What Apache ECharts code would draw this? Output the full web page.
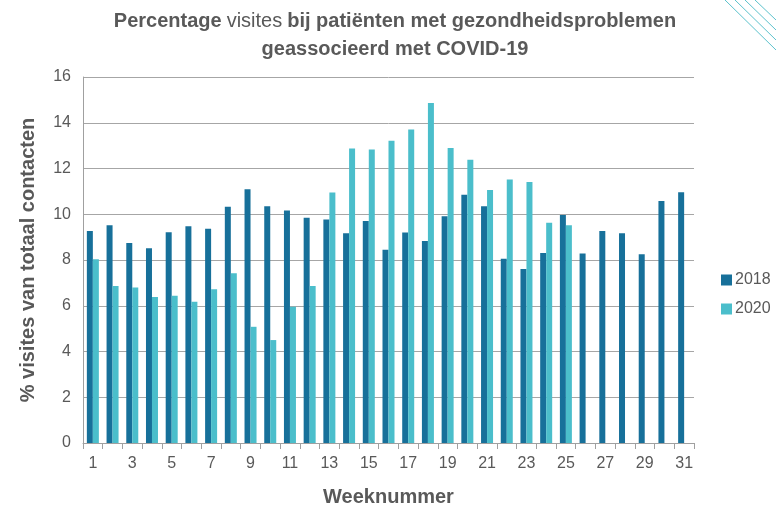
<!DOCTYPE html>
<html>
<head>
<meta charset="utf-8">
<title>COVID-19 visites</title>
<script src="https://cdn.jsdelivr.net/npm/echarts@6/dist/echarts.min.js"></script>
<style>html,body{margin:0;padding:0;background:#fff}</style>
</head>
<body>
<div id="main" style="width:776px;height:512px"></div>
<script type="text/javascript">
// weeknummers 1..31
var weeks = ['1','2','3','4','5','6','7','8','9','10','11','12','13','14','15','16',
  '17','18','19','20','21','22','23','24','25','26','27','28','29','30','31'];
var seriesNames = ['2018', '2020'];
var values2018 = [9.27, 9.52, 8.74, 8.51, 9.21, 9.47, 9.37, 10.33, 11.09, 10.35, 10.16,
  9.85, 9.77, 9.17, 9.71, 8.45, 9.20, 8.83, 9.91, 10.85, 10.35, 8.06, 7.61, 8.31,
  9.97, 8.28, 9.27, 9.17, 8.25, 10.58, 10.96];
var values2020 = [8.03, 6.86, 6.80, 6.38, 6.44, 6.17, 6.72, 7.42, 5.08, 4.50, 5.96,
  6.86, 10.95, 12.87, 12.83, 13.21, 13.71, 14.86, 12.90, 12.38, 11.06, 11.52, 11.41,
  9.63, 9.52, null, null, null, null, null, null];
var colors = ['#17709a', '#4bbecb'];

var font = 'Liberation Sans, sans-serif';
var textGray = '#595959';

var myChart = echarts.init(document.getElementById('main'));

var option = {
  backgroundColor: '#fff',
  color: colors,
  title: {
    text: '{b|Percentage} {n|visites} {b|bij patiënten met gezondheidsproblemen}\n{b|geassocieerd met COVID-19}',
    left: 390,
    top: 2,
    textAlign: 'center',
    textStyle: {
      rich: {
        b: { fontFamily: font, fontSize: 20, fontWeight: 'bold', color: textGray, lineHeight: 28 },
        n: { fontFamily: font, fontSize: 20, fontWeight: 'normal', color: textGray, lineHeight: 28 }
      }
    }
  },
  legend: {
    orient: 'vertical',
    left: 716,
    top: 267,
    itemWidth: 11,
    itemHeight: 11,
    itemGap: 13,
    icon: 'rect',
    data: seriesNames,
    textStyle: { fontFamily: font, fontSize: 16, color: textGray, padding: [0, 0, 0, -2] }
  },
  grid: { left: 83, right: 82, top: 77, bottom: 69, outerBoundsMode: 'none' },
  xAxis: {
    type: 'category',
    data: weeks,
    name: 'Weeknummer',
    nameLocation: 'middle',
    nameGap: 44,
    nameTextStyle: { fontFamily: font, fontSize: 20, fontWeight: 'bold', color: textGray },
    axisLine: { lineStyle: { color: '#a0a0a0' } },
    axisTick: { show: true, alignWithLabel: false, interval: 0, length: 6, lineStyle: { color: '#a0a0a0' } },
    axisLabel: { interval: 1, fontFamily: font, fontSize: 16, color: textGray, margin: 13 }
  },
  yAxis: {
    type: 'value',
    min: 0,
    max: 16,
    interval: 2,
    name: '% visites van totaal contacten',
    nameLocation: 'middle',
    nameGap: 45,
    nameTextStyle: { fontFamily: font, fontSize: 20, fontWeight: 'bold', color: textGray },
    axisLine: { show: true, lineStyle: { color: '#a0a0a0' } },
    axisTick: { show: false },
    axisLabel: { fontFamily: font, fontSize: 16, color: textGray, margin: 12 },
    splitLine: { lineStyle: { color: '#a6a6a6', width: 1 } }
  },
  series: [
    { name: seriesNames[0], type: 'bar', data: values2018, barWidth: 6, barGap: '0%' },
    { name: seriesNames[1], type: 'bar', data: values2020, barWidth: 6, barGap: '0%' }
  ],
  graphic: [
    { type: 'line', shape: { x1: 735, y1: 0, x2: 776, y2: 40 }, style: { stroke: '#5cc2cc', lineWidth: 1 } },
    { type: 'line', shape: { x1: 745, y1: 0, x2: 776, y2: 30 }, style: { stroke: '#5cc2cc', lineWidth: 1 } },
    { type: 'line', shape: { x1: 755, y1: 0, x2: 776, y2: 20 }, style: { stroke: '#5cc2cc', lineWidth: 1 } },
    { type: 'line', shape: { x1: 725, y1: 0, x2: 776, y2: 50 }, style: { stroke: '#5cc2cc', lineWidth: 1 } }
  ]
};

myChart.setOption(option);
</script>
</body>
</html>
